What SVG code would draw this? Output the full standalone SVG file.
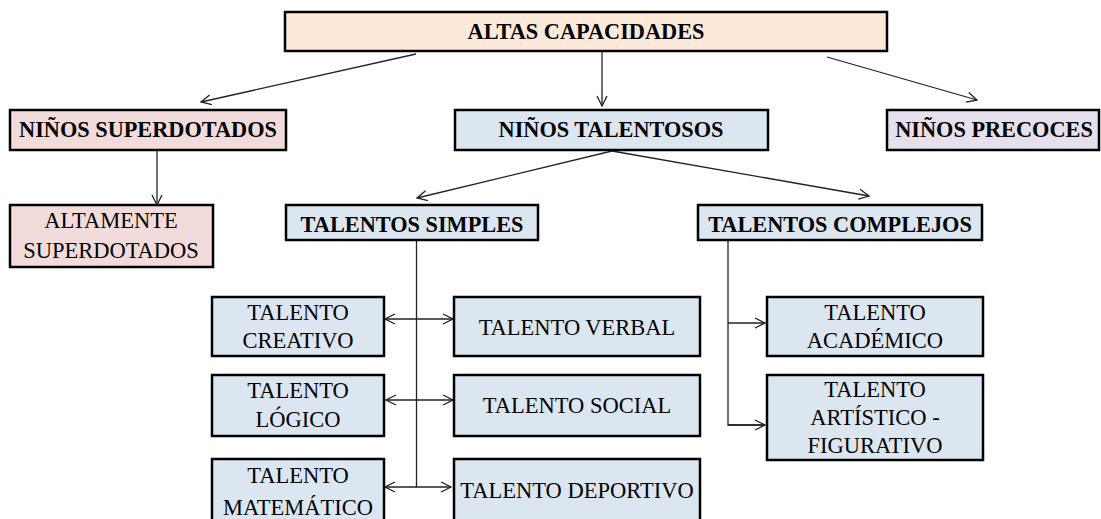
<svg xmlns="http://www.w3.org/2000/svg" width="1101" height="519" viewBox="0 0 1101 519">
<style>
.b{stroke:#000;stroke-width:2.5}
.peach{fill:#FCE9DA}.pink{fill:#F2DCDB}.blue{fill:#DCE6F1}.lav{fill:#E5E0EC}
text{font-family:"Liberation Serif","Times New Roman",serif;fill:#000;text-anchor:middle}
.h{font-weight:bold;font-size:22.3px}
.n{font-size:22.5px}
.c line,.c path{stroke:#222;stroke-width:1.3;fill:none}
</style>
<defs>
<marker id="ar" viewBox="0 0 12 12" refX="11" refY="6" markerWidth="12" markerHeight="12" markerUnits="userSpaceOnUse" orient="auto-start-reverse">
<path d="M1,1 L11,6 L1,11" fill="none" stroke="#222" stroke-width="1.3"/>
</marker>
</defs>
<rect width="1101" height="519" fill="#fff"/>
<g class="c">
<line x1="416" y1="54" x2="201" y2="102" marker-end="url(#ar)"/>
<line x1="602" y1="52" x2="602" y2="106" marker-end="url(#ar)"/>
<line x1="827" y1="57" x2="977" y2="100" marker-end="url(#ar)"/>
<line x1="157" y1="151" x2="157" y2="205" marker-end="url(#ar)"/>
<line x1="612" y1="151" x2="417" y2="198" marker-end="url(#ar)"/>
<line x1="612" y1="151" x2="869" y2="196" marker-end="url(#ar)"/>
<line x1="416.5" y1="241" x2="416.5" y2="487"/>
<line x1="385" y1="319" x2="453" y2="319" marker-start="url(#ar)" marker-end="url(#ar)"/>
<line x1="386" y1="400" x2="453" y2="400" marker-start="url(#ar)" marker-end="url(#ar)"/>
<line x1="385" y1="487" x2="451" y2="487" marker-start="url(#ar)" marker-end="url(#ar)"/>
<path d="M728,241 V425 H765"/>
<line x1="728" y1="323" x2="765" y2="323" marker-end="url(#ar)"/>
<line x1="728" y1="425" x2="765" y2="425" marker-end="url(#ar)"/>
</g>
<g id="altas"><rect class="b peach" x="285" y="12" width="602" height="39"/><text class="h" x="586" y="39">ALTAS CAPACIDADES</text></g>
<g id="superdotados"><rect class="b pink" x="10" y="110" width="276" height="40"/><text class="h" x="148" y="137">NIÑOS SUPERDOTADOS</text></g>
<g id="talentosos"><rect class="b blue" x="455" y="110" width="313" height="40"/><text class="h" x="611" y="137">NIÑOS TALENTOSOS</text></g>
<g id="precoces"><rect class="b lav" x="887" y="110" width="212" height="40"/><text class="h" x="994" y="137">NIÑOS PRECOCES</text></g>
<g id="altamente"><rect class="b pink" x="10" y="205" width="203" height="62"/><text class="n" x="111" y="228">ALTAMENTE</text><text class="n" x="111" y="258">SUPERDOTADOS</text></g>
<g id="simples"><rect class="b blue" x="286" y="205" width="252" height="35"/><text class="h" x="412" y="232">TALENTOS SIMPLES</text></g>
<g id="complejos"><rect class="b blue" x="698" y="205" width="284" height="35"/><text class="h" x="840" y="232">TALENTOS COMPLEJOS</text></g>
<g id="creativo"><rect class="b blue" x="212" y="297" width="172" height="59"/><text class="n" x="298" y="320">TALENTO</text><text class="n" x="298" y="348">CREATIVO</text></g>
<g id="verbal"><rect class="b blue" x="454" y="297" width="246" height="59"/><text class="n" x="577" y="335">TALENTO VERBAL</text></g>
<g id="logico"><rect class="b blue" x="212" y="375" width="172" height="61"/><text class="n" x="298" y="398">TALENTO</text><text class="n" x="298" y="427">LÓGICO</text></g>
<g id="social"><rect class="b blue" x="454" y="375" width="246" height="61"/><text class="n" x="577" y="413">TALENTO SOCIAL</text></g>
<g id="matematico"><rect class="b blue" x="212" y="459" width="172" height="70"/><text class="n" x="298" y="483">TALENTO</text><text class="n" x="298" y="515">MATEMÁTICO</text></g>
<g id="deportivo"><rect class="b blue" x="454" y="459" width="246" height="70"/><text class="n" x="577" y="498">TALENTO DEPORTIVO</text></g>
<g id="academico"><rect class="b blue" x="767" y="297" width="216" height="59"/><text class="n" x="875" y="320">TALENTO</text><text class="n" x="875" y="348">ACADÉMICO</text></g>
<g id="artistico"><rect class="b blue" x="767" y="375" width="216" height="85"/><text class="n" x="875" y="397">TALENTO</text><text class="n" x="875" y="425">ARTÍSTICO -</text><text class="n" x="875" y="453">FIGURATIVO</text></g>
</svg>
